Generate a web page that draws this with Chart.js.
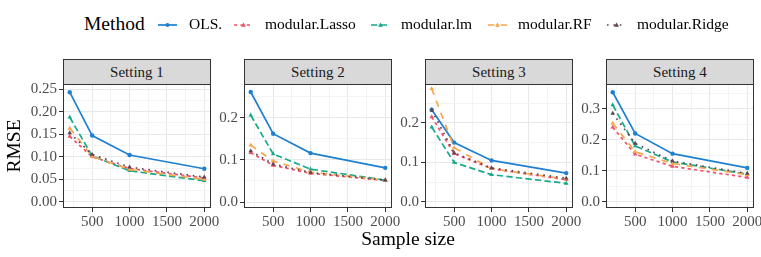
<!DOCTYPE html>
<html>
<head>
<meta charset="utf-8">
<script src="https://cdn.jsdelivr.net/npm/chart.js@4/dist/chart.umd.min.js"></script>
<style>
  html, body { margin:0; padding:0; background:#fff; }
  body { width:761px; height:257px; overflow:hidden; position:relative; font-family:"Liberation Serif", serif; }
  canvas.panel { position:absolute; }
  .strip { position:absolute; box-sizing:border-box; border:1px solid #333; border-bottom:none; background:#d9d9d9;
           font-size:15px; color:#1a1a1a; text-align:center; line-height:24px; height:25px; }
  .lg { position:absolute; white-space:nowrap; color:#000; }
  .key { position:absolute; }
  #xtitle { position:absolute; font-size:19.5px; color:#000; white-space:nowrap; transform:translateX(-50%); }
</style>
</head>
<body>
<div id="root"></div>
<script>
// ---------------- data ----------------
const sampleSizes = [200, 500, 1000, 2000];
const settings = ['Setting 1', 'Setting 2', 'Setting 3', 'Setting 4'];
const methodNames = ['OLS.', 'modular.Lasso', 'modular.lm', 'modular.RF', 'modular.Ridge'];

const olsRMSE   = [[0.243, 0.147, 0.104, 0.0735], [0.261, 0.162, 0.116, 0.081], [0.233, 0.150, 0.105, 0.073], [0.354, 0.221, 0.156, 0.110]];
const lassoRMSE = [[0.145, 0.100, 0.074, 0.053],  [0.117, 0.087, 0.068, 0.051], [0.215, 0.122, 0.084, 0.056], [0.241, 0.154, 0.115, 0.079]];
const lmRMSE    = [[0.1875, 0.102, 0.069, 0.047], [0.206, 0.114, 0.078, 0.052], [0.189, 0.100, 0.069, 0.047], [0.313, 0.181, 0.129, 0.090]];
const rfRMSE    = [[0.163, 0.101, 0.072, 0.050],  [0.135, 0.097, 0.071, 0.052], [0.286, 0.137, 0.084, 0.058], [0.254, 0.162, 0.124, 0.088]];
const ridgeRMSE = [[0.153, 0.105, 0.077, 0.055],  [0.121, 0.090, 0.070, 0.052], [0.232, 0.124, 0.086, 0.060], [0.286, 0.189, 0.132, 0.092]];

const xTicks = [500, 1000, 1500, 2000];
const xMinorTicks = [250, 750, 1250, 1750];
const yTicks = [[0, 0.05, 0.10, 0.15, 0.20, 0.25], [0, 0.1, 0.2], [0, 0.1, 0.2], [0, 0.1, 0.2, 0.3]];
const yTickLabels = [['0.00', '0.05', '0.10', '0.15', '0.20', '0.25'], ['0.0', '0.1', '0.2'], ['0.0', '0.1', '0.2'], ['0.0', '0.1', '0.2', '0.3']];
const yMinorTicks = [[0.025, 0.075, 0.125, 0.175, 0.225], [0.05, 0.15, 0.25], [0.05, 0.15, 0.25], [0.05, 0.15, 0.25, 0.35]];
const yLimits = [[-0.0133, 0.2611], [-0.0142, 0.280], [-0.0152, 0.298], [-0.0194, 0.3806]];
const xLimits = [110, 2090];

// ---------------- styles ----------------
const FONT = '"Liberation Serif", serif';
const seriesStyle = [
  { color:'#1f80d0', dash:[],          shape:'circle',   r:2.2, order:4 },
  { color:'#f0516a', dash:[3.2, 3.2],  shape:'triangle', r:2.6, order:3 },
  { color:'#17a98a', dash:[6.4, 3.2],  shape:'triangle', r:2.6, order:2 },
  { color:'#f9a54a', dash:[6.4, 6.4],  shape:'triangle', r:2.6, order:1 },
  { color:'#5e4351', dash:[1.6, 4.8],  shape:'triangle', r:2.6, order:0 }
];
const seriesValues = [olsRMSE, lassoRMSE, lmRMSE, rfRMSE, ridgeRMSE];

const PLOT_TOP = 84, PLOT_H = 124, PLOT_W = 148, PAD_TOP = 10, PAD_RIGHT = 14, XAX_H = 30;
const plotLefts = [63, 244, 425, 606];

const root = document.getElementById('root');

const near = (a, b) => Math.abs(a - b) < 1e-9;

const borderPlugin = {
  id: 'panelBorder',
  afterDraw(chart) {
    const a = chart.chartArea, c = chart.ctx;
    c.save();
    c.strokeStyle = '#333';
    c.lineWidth = 1;
    c.strokeRect(Math.round(a.left) + 0.5, Math.round(a.top) + 0.5, Math.round(a.right - a.left) - 1, Math.round(a.bottom - a.top) - 1);
    c.restore();
  }
};

settings.forEach((name, i) => {
  const W = i === 0 ? 63 : 45;
  const cv = document.createElement('canvas');
  cv.className = 'panel';
  const cw = W + PLOT_W + PAD_RIGHT, ch = PAD_TOP + PLOT_H + XAX_H;
  cv.width = cw; cv.height = ch;
  cv.style.width = cw + 'px'; cv.style.height = ch + 'px';
  cv.style.left = (plotLefts[i] - W) + 'px';
  cv.style.top = (PLOT_TOP - PAD_TOP) + 'px';
  root.appendChild(cv);

  const datasets = methodNames.map((m, k) => ({
    label: m,
    data: sampleSizes.map((x, j) => ({ x: x, y: seriesValues[k][i][j] })),
    borderColor: seriesStyle[k].color,
    backgroundColor: seriesStyle[k].color,
    borderWidth: 1.7,
    borderDash: seriesStyle[k].dash,
    pointStyle: seriesStyle[k].shape,
    pointRadius: seriesStyle[k].r,
    pointBorderWidth: 0,
    pointBackgroundColor: seriesStyle[k].color,
    tension: 0,
    fill: false,
    order: seriesStyle[k].order
  }));

  const yMaj = yTicks[i], yMin = yMinorTicks[i];
  const isMajY = v => yMaj.some(t => near(t, v));
  const isMajX = v => xTicks.some(t => near(t, v));

  new Chart(cv.getContext('2d'), {
    type: 'line',
    data: { datasets },
    options: {
      responsive: false,
      animation: false,
      devicePixelRatio: 1,
      layout: { padding: { top: PAD_TOP, right: PAD_RIGHT, left: 0, bottom: 0 } },
      plugins: { legend: { display: false }, tooltip: { enabled: false } },
      scales: {
        x: {
          type: 'linear',
          min: xLimits[0], max: xLimits[1],
          afterBuildTicks: s => { s.ticks = xMinorTicks.concat(xTicks).sort((a, b) => a - b).map(v => ({ value: v })); },
          afterFit: s => { s.height = XAX_H; s.paddingLeft = 0; s.paddingRight = 0; },
          ticks: {
            autoSkip: false, maxRotation: 0, minRotation: 0, padding: 1,
            font: { family: FONT, size: 15 }, color: '#4d4d4d',
            callback: v => isMajX(v) ? String(v) : ''
          },
          grid: {
            color: c => isMajX(c.tick.value) ? '#e8e8e8' : '#f3f3f3',
            lineWidth: 1,
            tickColor: c => isMajX(c.tick.value) ? '#333' : 'rgba(0,0,0,0)',
            tickLength: 4, drawTicks: true
          },
          border: { display: false }
        },
        y: {
          type: 'linear',
          min: yLimits[i][0], max: yLimits[i][1],
          afterBuildTicks: s => { s.ticks = yMin.concat(yMaj).filter(v => v >= yLimits[i][0] && v <= yLimits[i][1]).sort((a, b) => a - b).map(v => ({ value: v })); },
          afterFit: s => { s.width = W; s.paddingTop = 0; s.paddingBottom = 0; },
          ticks: {
            autoSkip: false, padding: 2,
            font: { family: FONT, size: 15 }, color: '#4d4d4d',
            callback: v => { const idx = yMaj.findIndex(t => near(t, v)); return idx >= 0 ? yTickLabels[i][idx] : ''; }
          },
          grid: {
            color: c => isMajY(c.tick.value) ? '#e8e8e8' : '#f3f3f3',
            lineWidth: 1,
            tickColor: c => isMajY(c.tick.value) ? '#333' : 'rgba(0,0,0,0)',
            tickLength: 4, drawTicks: true
          },
          border: { display: false },
          title: i === 0 ? { display: true, text: 'RMSE', font: { family: FONT, size: 19.5 }, color: '#000', padding: { top: 3, bottom: 0 } } : { display: false }
        }
      }
    },
    plugins: [borderPlugin]
  });

  const st = document.createElement('div');
  st.className = 'strip';
  st.style.left = plotLefts[i] + 'px';
  st.style.top = '59px';
  st.style.width = PLOT_W + 'px';
  st.textContent = name;
  root.appendChild(st);
});

// x-axis title
const xt = document.createElement('div');
xt.id = 'xtitle';
xt.textContent = 'Sample size';
xt.style.left = '408px';
xt.style.top = '228px';
root.appendChild(xt);

// legend
const lgTitle = document.createElement('div');
lgTitle.className = 'lg';
lgTitle.textContent = 'Method';
lgTitle.style.cssText += 'left:84px;top:13px;font-size:19.5px;';
root.appendChild(lgTitle);

const keyLefts = [158, 234, 371, 488, 607];
const labelLefts = [189, 265, 401, 518, 637];
methodNames.forEach((m, k) => {
  const s = seriesStyle[k];
  const svgNS = 'http://www.w3.org/2000/svg';
  const svg = document.createElementNS(svgNS, 'svg');
  svg.setAttribute('width', '19'); svg.setAttribute('height', '10');
  svg.setAttribute('class', 'key');
  svg.style.left = keyLefts[k] + 'px'; svg.style.top = '20px';
  const ln = document.createElementNS(svgNS, 'line');
  ln.setAttribute('x1', '0'); ln.setAttribute('x2', '19'); ln.setAttribute('y1', '5'); ln.setAttribute('y2', '5');
  ln.setAttribute('stroke', s.color); ln.setAttribute('stroke-width', '1.7');
  if (s.dash.length) ln.setAttribute('stroke-dasharray', s.dash.join(','));
  svg.appendChild(ln);
  let mk;
  if (s.shape === 'circle') {
    mk = document.createElementNS(svgNS, 'circle');
    mk.setAttribute('cx', '9.5'); mk.setAttribute('cy', '5'); mk.setAttribute('r', '2');
  } else {
    mk = document.createElementNS(svgNS, 'polygon');
    mk.setAttribute('points', '9.5,2.5 12,6.8 7,6.8');
  }
  mk.setAttribute('fill', s.color);
  svg.appendChild(mk);
  root.appendChild(svg);

  const t = document.createElement('div');
  t.className = 'lg';
  t.textContent = m;
  t.style.cssText += 'left:' + labelLefts[k] + 'px;top:15px;font-size:15.5px;';
  root.appendChild(t);
});
</script>
</body>
</html>
